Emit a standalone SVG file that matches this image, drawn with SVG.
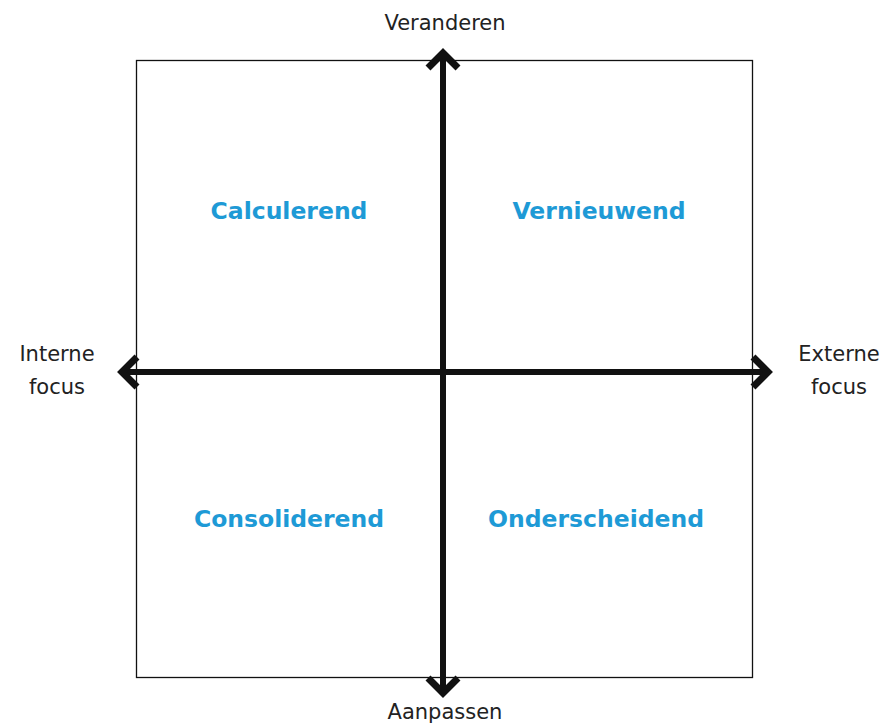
<svg xmlns="http://www.w3.org/2000/svg" width="883" height="725" viewBox="0 0 883 725">
<style>
.lbl{font-family:"DejaVu Sans",Verdana,sans-serif;font-size:21px;fill:#222;text-anchor:middle}
.q{font-family:"DejaVu Sans",Verdana,sans-serif;font-size:23.5px;font-weight:bold;fill:#1e9ad6;text-anchor:middle}
.ax{stroke:#111;stroke-width:6;fill:none}
.hd{stroke:#111;stroke-width:7;fill:none;stroke-linejoin:miter;stroke-miterlimit:10}
</style>
<rect width="883" height="725" fill="#fff"/>
<g id="frame"><rect x="136.5" y="60.5" width="616" height="617" fill="none" stroke="#111" stroke-width="1.3"/></g>
<g id="connectors">
<line class="ax" x1="443" y1="52" x2="443" y2="694"/>
<line class="ax" x1="120" y1="372" x2="770" y2="372"/>
<polyline class="hd" points="428,68 443,53 458,68"/>
<polyline class="hd" points="428,678 443,693 458,678"/>
<polyline class="hd" points="137,357 122,372 137,387"/>
<polyline class="hd" points="753,357 768,372 753,387"/>
</g>
<g id="n-top"><text class="lbl" x="445" y="30">Veranderen</text></g>
<g id="n-bottom"><text class="lbl" x="445" y="719">Aanpassen</text></g>
<g id="n-left"><text class="lbl" x="57" y="361">Interne</text><text class="lbl" x="57" y="394">focus</text></g>
<g id="n-right"><text class="lbl" x="839" y="361">Externe</text><text class="lbl" x="839" y="394">focus</text></g>
<g id="q1"><text class="q" x="289" y="219">Calculerend</text></g>
<g id="q2"><text class="q" x="599" y="219">Vernieuwend</text></g>
<g id="q3"><text class="q" x="289" y="527">Consoliderend</text></g>
<g id="q4"><text class="q" x="596" y="527">Onderscheidend</text></g>
</svg>
